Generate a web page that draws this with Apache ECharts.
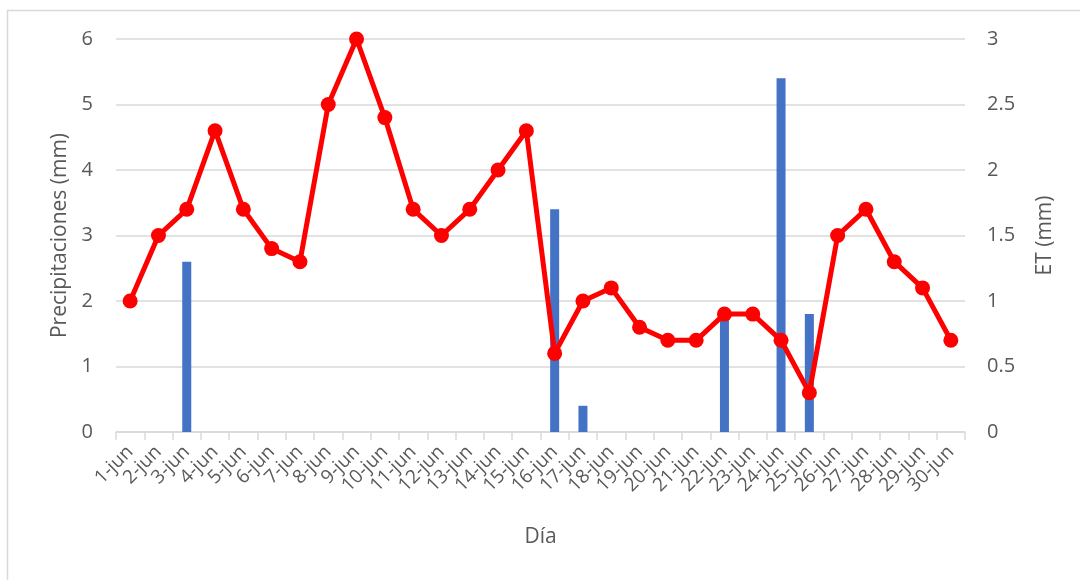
<!DOCTYPE html>
<html>
<head>
<meta charset="utf-8">
<script src="https://cdn.jsdelivr.net/npm/echarts@6/dist/echarts.min.js"></script>
<style>html,body{margin:0;padding:0;background:#fff}#c{width:1080px;height:580px}</style>
</head>
<body>
<div id="c"></div>
<script>
var categories = ['1-jun','2-jun','3-jun','4-jun','5-jun','6-jun','7-jun','8-jun','9-jun','10-jun','11-jun','12-jun','13-jun','14-jun','15-jun','16-jun','17-jun','18-jun','19-jun','20-jun','21-jun','22-jun','23-jun','24-jun','25-jun','26-jun','27-jun','28-jun','29-jun','30-jun'];
var precipitaciones = [0,0,2.6,0,0,0,0,0,0,0,0,0,0,0,0,3.4,0.4,0,0,0,0,1.8,0,5.4,1.8,0,0,0,0,0];
var et = [1.0,1.5,1.7,2.3,1.7,1.4,1.3,2.5,3.0,2.4,1.7,1.5,1.7,2.0,2.3,0.6,1.0,1.1,0.8,0.7,0.7,0.9,0.9,0.7,0.3,1.5,1.7,1.3,1.1,0.7];
var leftTicks = [0,1,2,3,4,5,6];
var rightTicks = [0,0.5,1,1.5,2,2.5,3];

var FONT = 'Open Sans';
var TXT = '#595959';
var chart = echarts.init(document.getElementById('c'));
chart.setOption({
  animation: false,
  textStyle: {fontFamily: FONT},
  graphic: [{type:'rect', shape:{x:7.5,y:10.5,width:1200,height:700}, style:{fill:'none', stroke:'#d9d9d9', lineWidth:1.5}, silent:true}],
  grid: {left:116, right:115, top:39, bottom:148},
  xAxis: {
    type:'category', data:categories, boundaryGap:true,
    name:'Día', nameLocation:'middle', nameGap:95,
    nameTextStyle:{fontSize:21, color:TXT, fontFamily:FONT},
    axisLine:{lineStyle:{color:'#d9d9d9', width:1.5}},
    axisTick:{show:true, length:8, lineStyle:{color:'#d9d9d9', width:1.5}},
    axisLabel:{rotate:45, fontSize:19, color:TXT, margin:17, interval:0, fontFamily:FONT}
  },
  yAxis: [{
    type:'value', min:leftTicks[0], max:leftTicks[leftTicks.length-1], interval:1,
    name:'Precipitaciones (mm)', nameLocation:'middle', nameGap:45, nameRotate:90,
    nameTextStyle:{fontSize:21, color:TXT, fontFamily:FONT},
    axisLine:{show:false}, axisTick:{show:false},
    axisLabel:{fontSize:20, color:TXT, margin:23, fontFamily:FONT},
    splitLine:{lineStyle:{color:'#d9d9d9', width:1.5}}
  },{
    type:'value', min:rightTicks[0], max:rightTicks[rightTicks.length-1], interval:0.5,
    name:'ET (mm)', nameLocation:'middle', nameGap:70, nameRotate:90,
    nameTextStyle:{fontSize:21, color:TXT, fontFamily:FONT},
    axisLine:{show:false}, axisTick:{show:false},
    axisLabel:{fontSize:20, color:TXT, margin:22, fontFamily:FONT},
    splitLine:{show:false}
  }],
  series: [{
    type:'bar', data:precipitaciones, yAxisIndex:0, barWidth:9,
    itemStyle:{color:'#4472c4'}
  },{
    type:'line', data:et, yAxisIndex:1, symbol:'circle', symbolSize:15,
    lineStyle:{color:'#ff0000', width:5}, itemStyle:{color:'#ff0000'}, z:5
  }]
});
</script>
</body>
</html>
